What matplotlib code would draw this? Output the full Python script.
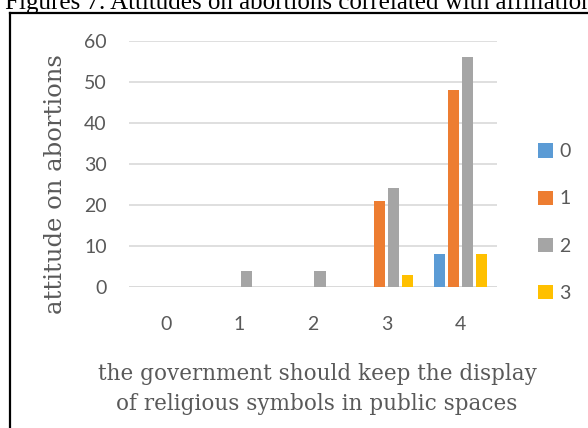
import matplotlib.pyplot as plt
from matplotlib.lines import Line2D
import numpy as np

# Antworten auf "the government should keep the display ..." (x-Achse)
categories = ["0", "1", "2", "3", "4"]
# Einstellung zur Abtreibung (Legende) -> Häufigkeiten je Kategorie
series_names = ["0", "1", "2", "3"]
counts_0 = [0, 0, 0, 0, 8]
counts_1 = [0, 0, 0, 21, 48]
counts_2 = [0, 4, 4, 24, 56]
counts_3 = [0, 0, 0, 3, 8]
colors = ["#5B9BD5", "#ED7D31", "#A5A5A5", "#FFC000"]

W, H = 588, 428
txt_col = "#595959"

fig = plt.figure(figsize=(W / 100, H / 100), dpi=100)

# Plotbereich in Pixeln
left, right, top, bottom = 129, 497, 40.7, 287
ax = fig.add_axes([left / W, 1 - bottom / H, (right - left) / W, (bottom - top) / H])

x = np.arange(len(categories))
bar_w = 0.15
step = 0.19
all_counts = [counts_0, counts_1, counts_2, counts_3]
for i, (vals, col, name) in enumerate(zip(all_counts, colors, series_names)):
    ax.bar(x + (i - 1.5) * step, vals, width=bar_w, color=col, label=name, zorder=3)

ax.set_xlim(-0.5, 4.5)
ax.set_ylim(0, 60)
ax.set_yticks(range(0, 61, 10))
ax.set_xticks(x)
ax.set_xticklabels(categories)
ax.grid(axis="y", color="#D9D9D9", linewidth=1.2, zorder=0)
for s in ["top", "right", "left", "bottom"]:
    ax.spines[s].set_visible(False)
ax.axhline(0, color="#D9D9D9", linewidth=1.2, zorder=2)
ax.tick_params(axis="both", length=0, labelcolor=txt_col, labelsize=14)
ax.tick_params(axis="y", pad=16)
ax.tick_params(axis="x", pad=21)
for lab in ax.get_xticklabels() + ax.get_yticklabels():
    lab.set_fontfamily("Lato")

# Achsentitel
fig.text(56 / W, 1 - 184 / H, "attitude on abortions", rotation=90,
         ha="center", va="center", color=txt_col, family="DejaVu Serif", fontsize=17.5)
fig.text(317 / W, 1 - 389 / H,
         "the government should keep the display\nof religious symbols in public spaces",
         ha="center", va="center", color=txt_col, family="DejaVu Serif",
         fontsize=15.5, linespacing=1.5)

# Legende rechts
leg = ax.legend(loc="center left", bbox_to_anchor=(538 / W, 1 - 222.5 / H),
                bbox_transform=fig.transFigure, frameon=False, borderpad=0,
                borderaxespad=0, handlelength=0.75, handleheight=0.75,
                handletextpad=0.35, labelspacing=1.55,
                prop={"family": "Lato", "size": 14})
for t in leg.get_texts():
    t.set_color(txt_col)

# Rahmen um die Grafik
fig.add_artist(Line2D([9.5 / W, 9.5 / W], [0, 1 - 12.5 / H], transform=fig.transFigure,
                      color="black", linewidth=1.6))
fig.add_artist(Line2D([9.5 / W, 1], [1 - 12.5 / H, 1 - 12.5 / H], transform=fig.transFigure,
                      color="black", linewidth=1.6))

# Überschrift (oben angeschnitten)
fig.text(5 / W, 1 - 8.5 / H, "Figures 7. Attitudes on abortions correlated with affiliation",
         ha="left", va="baseline", family="Liberation Serif", fontsize=18, color="black")

fig.savefig("out.png", dpi=100)
